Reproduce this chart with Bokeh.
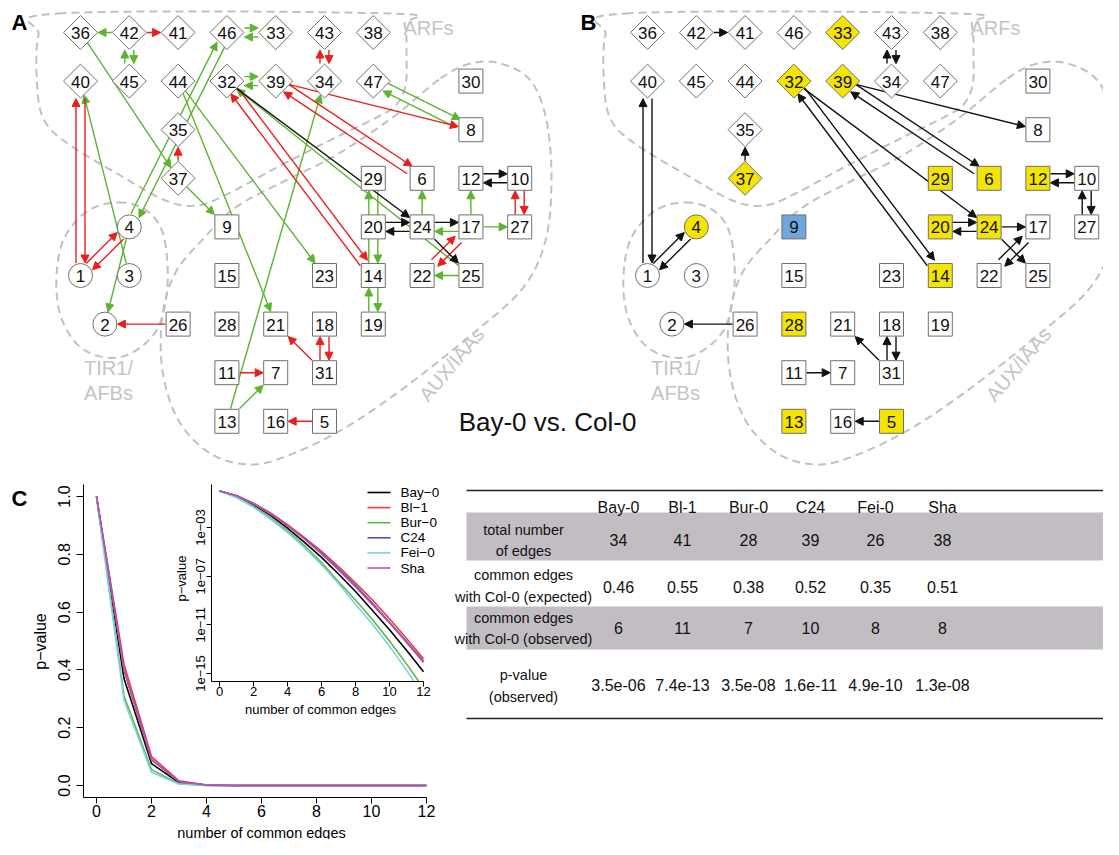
import math
import numpy as np
from bokeh.plotting import figure
from bokeh.models import (Range1d, LinearAxis, LogAxis, LogScale, FixedTicker,
                          NumeralTickFormatter, CustomJSTickFormatter, Arrow,
                          NormalHead, ColumnDataSource)
from bokeh.core.properties import value
from bokeh.embed import file_html
from bokeh.resources import INLINE

FONT = "Liberation Sans"
MINUS = "\u2212"

# ---------------- network data (panels A and B) ----------------
node_id = [36, 42, 41, 46, 33, 43, 38,
           40, 45, 44, 32, 39, 34, 47, 30,
           35, 8,
           37, 29, 6, 12, 10,
           4, 9, 20, 24, 17, 27,
           1, 3, 15, 23, 14, 22, 25,
           2, 26, 28, 21, 18, 19,
           11, 7, 31,
           13, 16, 5]
node_col = [0, 1, 2, 3, 4, 5, 6,
            0, 1, 2, 3, 4, 5, 6, 8,
            2, 8,
            2, 6, 7, 8, 9,
            1, 3, 6, 7, 8, 9,
            0, 1, 3, 5, 6, 7, 8,
            0.5, 2, 3, 4, 5, 6,
            3, 4, 5,
            3, 4, 5]
node_row = [0] * 7 + [1] * 8 + [2] * 2 + [3] * 5 + [4] * 6 + [5] * 7 + [6] * 6 + [7] * 3 + [8] * 3

edges_A_from = [42, 42, 42, 45, 46, 33, 43, 34, 32, 39, 36, 37, 37, 44, 44, 46, 4, 1, 40, 3,
                1, 4, 4, 26, 39, 39, 6, 47, 8, 32, 32, 14, 25, 20, 24, 24, 17, 24, 24, 17,
                12, 10, 27, 10, 17, 22, 17, 25, 14, 29, 19, 14, 31, 31, 18, 11, 13, 13, 5]
edges_A_to = [36, 41, 45, 42, 33, 46, 34, 43, 39, 32, 37, 35, 9, 21, 23, 4, 46, 40, 1, 40,
              4, 1, 2, 2, 8, 6, 39, 8, 47, 24, 14, 32, 32, 24, 20, 17, 24, 25, 6, 12,
              10, 12, 10, 27, 27, 17, 22, 22, 29, 14, 14, 19, 21, 18, 31, 7, 7, 34, 16]
edges_A_kind = ["g", "r", "g", "g", "g", "g", "r", "r", "g", "g", "g", "r", "g", "g", "g", "g", "g", "r", "r", "g",
                "r", "r", "g", "r", "r", "r", "r", "g", "g", "k", "r", "r", "g", "k", "k", "k", "g", "k", "g", "g",
                "k", "k", "r", "r", "g", "r", "r", "g", "g", "g", "g", "g", "r", "r", "r", "r", "g", "g", "r"]

edges_B_from = [42, 43, 34, 1, 40, 1, 4, 37, 32, 14, 32, 39, 6, 39, 20, 24, 24, 24, 22, 17,
                12, 10, 27, 10, 26, 31, 31, 18, 11, 5]
edges_B_to = [41, 34, 43, 40, 1, 4, 1, 35, 14, 32, 24, 6, 39, 8, 24, 20, 17, 25, 17, 22,
              10, 12, 10, 27, 2, 21, 18, 31, 7, 16]

B_yellow = [33, 32, 39, 37, 4, 29, 6, 12, 20, 24, 14, 28, 13, 5]
B_blue = [9]

# ---------------- panel C data ----------------
k_edges = [0, 1, 2, 3, 4, 5, 6, 7, 8, 9, 10, 11, 12]
strains = ["Bay-0", "Bl-1", "Bur-0", "C24", "Fei-0", "Sha"]
pv_bay0 = [1.0, 0.37, 0.076, 1.0e-2, 8.9e-4, 6.0e-5, 3.5e-6, 1.5e-7, 5.5e-9, 1.5e-10, 3.9e-12, 8.1e-14, 1.4e-15]
pv_bl1 = [1.0, 0.42, 0.10, 1.6e-2, 1.7e-3, 1.5e-4, 1.1e-5, 6.2e-7, 2.9e-8, 1.1e-9, 3.2e-11, 7.4e-13, 1.6e-14]
pv_bur0 = [1.0, 0.31, 0.055, 6.3e-3, 5.6e-4, 3.2e-5, 1.3e-6, 3.5e-8, 1.1e-9, 2.6e-11, 4.7e-13, 6.2e-15, 6.2e-17]
pv_c24 = [1.0, 0.40, 0.089, 1.35e-2, 1.4e-3, 1.2e-4, 7.9e-6, 4.2e-7, 1.8e-8, 6.0e-10, 1.6e-11, 4.2e-13, 1.0e-14]
pv_fei0 = [1.0, 0.295, 0.046, 5.0e-3, 4.0e-4, 2.2e-5, 8.9e-7, 2.5e-8, 4.9e-10, 1.1e-11, 1.7e-13, 1.9e-15, 1.5e-17]
pv_sha = [1.0, 0.40, 0.091, 1.3e-2, 1.4e-3, 1.1e-4, 6.8e-6, 3.2e-7, 1.3e-8, 4.6e-10, 1.4e-11, 3.6e-13, 7.9e-15]
series_colors = ["#000000", "#f23a3a", "#5cb947", "#5a4fb3", "#7fd0e3", "#b653b5"]

main_x_ticks = [0, 2, 4, 6, 8, 10, 12]
main_y_ticks = [0.0, 0.2, 0.4, 0.6, 0.8, 1.0]
inset_y_ticks = [1e-15, 1e-11, 1e-7, 1e-3]

# ---------------- table data ----------------
tbl_row_labels = [["total number", "of edges"],
                  ["common edges", "with Col-0 (expected)"],
                  ["common edges", "with Col-0 (observed)"],
                  ["p-value", "(observed)"]]
tbl_total = ["34", "41", "28", "39", "26", "38"]
tbl_expected = ["0.46", "0.55", "0.38", "0.52", "0.35", "0.51"]
tbl_observed = ["6", "11", "7", "10", "8", "8"]
tbl_pvalue = ["3.5e-06", "7.4e-13", "3.5e-08", "1.6e-11", "4.9e-10", "1.3e-08"]

# ---------------- canvas (data units = pixels of the picture) ----------------
CW, CH = 1103, 839
p = figure(width=CW, height=CH, x_range=Range1d(0, CW), y_range=Range1d(CH, 0),
           x_axis_type=None, y_axis_type=None, toolbar_location=None,
           output_backend="svg", min_border=0)
p.outline_line_color = None
p.background_fill_color = "white"

GRAY = "#c0c0c0"
GREEN, RED, BLACK = "#5cb52f", "#e8201d", "#111111"
KIND_COLOR = {"g": GREEN, "r": RED, "k": BLACK}


def closed_spline(pts, dx=0.0, n=14):
    P = np.array(pts, float)
    P[:, 0] += dx
    m = len(P)
    xs, ys = [], []
    for i in range(m):
        p0, p1, p2, p3 = P[(i - 1) % m], P[i], P[(i + 1) % m], P[(i + 2) % m]
        for t in np.linspace(0, 1, n, endpoint=False):
            q = 0.5 * ((2 * p1) + (-p0 + p2) * t + (2 * p0 - 5 * p1 + 4 * p2 - p3) * t * t
                       + (-p0 + 3 * p1 - 3 * p2 + p3) * t ** 3)
            xs.append(q[0]); ys.append(q[1])
    xs.append(xs[0]); ys.append(ys[0])
    return xs, ys


ARF_OUT = [(58, 13), (390, 13), (404, 24), (406, 55), (405, 85), (396, 104), (378, 116), (335, 137),
           (280, 165), (228, 193), (197, 205), (165, 200), (120, 175), (70, 145), (45, 122), (37, 90), (38, 35)]
AUX_OUT = [(440, 78), (470, 63), (500, 63), (530, 80), (546, 120), (551, 180), (545, 240), (522, 288),
           (470, 335), (400, 390), (340, 430), (285, 456), (248, 464), (210, 453), (178, 420), (162, 370),
           (162, 315), (175, 272), (203, 238), (235, 207), (285, 180), (335, 155), (392, 117)]
TIR_OUT = [(118, 202), (146, 210), (163, 235), (167, 285), (157, 328), (132, 352), (105, 357), (78, 345),
           (60, 315), (56, 275), (64, 237), (88, 210)]

GX0, GDX, GY0, GDY = 80.0, 48.8, 32.0, 48.6
PANEL_OFF = [0.0, 567.0]


def shape_of(n):
    return "circle" if n <= 4 else ("square" if n <= 31 else "diamond")


def reach(shape, ux, uy):
    if shape == "square":
        return 12.5 / max(abs(ux), abs(uy))
    if shape == "diamond":
        return 17.5 / (abs(ux) + abs(uy))
    return 12.5


def positions(off):
    return {n: (GX0 + off + c * GDX, GY0 + r * GDY) for n, c, r in zip(node_id, node_col, node_row)}


def edge_sources(efrom, eto, kinds, off):
    pos = positions(off)
    pairs = set(zip(efrom, eto))
    out = {}
    for s, d, k in zip(efrom, eto, kinds):
        x0, y0 = pos[s]
        x1, y1 = pos[d]
        L = math.hypot(x1 - x0, y1 - y0)
        ux, uy = (x1 - x0) / L, (y1 - y0) / L
        o = 4.5 if (d, s) in pairs else 0.0
        nx, ny = uy * o, -ux * o
        rs, rd = reach(shape_of(s), ux, uy), reach(shape_of(d), ux, uy)
        dd = out.setdefault(k, dict(x0=[], y0=[], x1=[], y1=[]))
        dd["x0"].append(x0 + nx + ux * rs); dd["y0"].append(y0 + ny + uy * rs)
        dd["x1"].append(x1 + nx - ux * rd); dd["y1"].append(y1 + ny - uy * rd)
    return out


def draw_nodes(off, fills):
    pos = positions(off)
    groups = {"square": dict(x=[], y=[], f=[]), "diamond": dict(x=[], y=[], f=[]), "circle": dict(x=[], y=[], f=[])}
    for n in node_id:
        g = groups[shape_of(n)]
        g["x"].append(pos[n][0]); g["y"].append(pos[n][1]); g["f"].append(fills.get(n, "white"))
    sq = groups["square"]
    p.rect(x=sq["x"], y=sq["y"], width=24, height=24, fill_color=sq["f"], line_color="#707070", line_width=1)
    dm = groups["diamond"]
    p.scatter(x=dm["x"], y=dm["y"], marker="square", size=24, angle=math.pi / 4,
              fill_color=dm["f"], line_color="#707070", line_width=1)
    ci = groups["circle"]
    p.scatter(x=ci["x"], y=ci["y"], marker="circle", size=24, fill_color=ci["f"], line_color="#707070", line_width=1)
    p.text(x=[pos[n][0] for n in node_id], y=[pos[n][1] + 0.5 for n in node_id], text=[str(n) for n in node_id],
           text_align="center", text_baseline="middle", text_font=value(FONT), text_font_size="17px",
           text_color="#111111")


for off in PANEL_OFF:
    for pts in (ARF_OUT, AUX_OUT, TIR_OUT):
        xs, ys = closed_spline(pts, dx=off)
        p.line(xs, ys, line_color=GRAY, line_width=2, line_dash="8 5", level="image")
    p.text(x=[428 + off], y=[27], text=["ARFs"], text_align="center", text_baseline="middle",
           text_font=value(FONT), text_font_size="20px", text_color="#c4c4c4")
    p.text(x=[108 + off, 108 + off], y=[367, 392], text=["TIR1/", "AFBs"], text_align="center",
           text_baseline="middle", text_font=value(FONT), text_font_size="20px", text_color="#c4c4c4")
    p.text(x=[451 + off], y=[364], text=["AUX/IAAs"], angle=math.radians(50), text_align="center",
           text_baseline="middle", text_font=value(FONT), text_font_size="20px", text_color="#c4c4c4")

# edges panel A
for k, d in edge_sources(edges_A_from, edges_A_to, edges_A_kind, PANEL_OFF[0]).items():
    c = KIND_COLOR[k]
    p.add_layout(Arrow(x_start="x0", y_start="y0", x_end="x1", y_end="y1", source=ColumnDataSource(d),
                       line_color=c, line_width=1.4, level="underlay",
                       end=NormalHead(size=8, fill_color=c, line_color=c, line_width=1)))
# edges panel B
for k, d in edge_sources(edges_B_from, edges_B_to, ["k"] * len(edges_B_from), PANEL_OFF[1]).items():
    p.add_layout(Arrow(x_start="x0", y_start="y0", x_end="x1", y_end="y1", source=ColumnDataSource(d),
                       line_color=BLACK, line_width=1.4, level="underlay",
                       end=NormalHead(size=8, fill_color=BLACK, line_color=BLACK, line_width=1)))

draw_nodes(PANEL_OFF[0], {})
fillsB = {n: "#f4e400" for n in B_yellow}
fillsB.update({n: "#6ea7da" for n in B_blue})
draw_nodes(PANEL_OFF[1], fillsB)

p.text(x=[547], y=[421], text=["Bay-0 vs. Col-0"], text_align="center", text_baseline="middle",
       text_font=value(FONT), text_font_size="26px", text_color="#111111")
p.text(x=[19, 588, 19], y=[22, 22, 498], text=["A", "B", "C"], text_align="center", text_baseline="middle",
       text_font=value(FONT), text_font_size="22px", text_font_style="bold", text_color="#000000")

# ---------------- panel C: ranges mapped onto the canvas ----------------
def lin(pa, va, pb, vb, P):
    return va + (P - pa) * (vb - va) / (pb - pa)


CX = (96, 0.0, 426, 12.0)       # pixel/value pairs of main plot x
CY = (785, 0.0, 496, 1.0)
IX = (219, 0.0, 423, 12.0)
IY = (673, -15.0, 527, -3.0)     # log10 values

p.extra_x_ranges = {"cx": Range1d(lin(*CX, 0), lin(*CX, CW)),
                    "ix": Range1d(lin(*IX, 0), lin(*IX, CW))}
p.extra_y_ranges = {"cy": Range1d(lin(*CY, CH), lin(*CY, 0)),
                    "iy": Range1d(10 ** lin(*IY, CH), 10 ** lin(*IY, 0))}
p.extra_y_scales = {"iy": LogScale()}

series = [pv_bay0, pv_bl1, pv_bur0, pv_c24, pv_fei0, pv_sha]
for pv, c in zip(series, series_colors):
    p.line(k_edges, pv, x_range_name="cx", y_range_name="cy", line_color=c, line_width=1.6)
for pv, c in zip(series, series_colors):
    p.line(k_edges, pv, x_range_name="ix", y_range_name="iy", line_color=c, line_width=1.6)
# clip the inset curves below its frame
p.quad(left=[398], right=[440], top=[681], bottom=[703], fill_color="white", line_color=None)

X_LO, Y_LO = -0.48, -0.04
IY_LO, IY_HI = 10 ** lin(*IY, 680.5), 10 ** lin(*IY, 483.5)


def style_axis(ax, fs, tick, standoff):
    ax.axis_line_color = "black"
    ax.axis_line_width = 1
    ax.major_tick_line_color = "black"
    ax.major_tick_out = tick
    ax.major_tick_in = 0
    ax.minor_tick_line_color = None
    ax.major_label_text_font = FONT
    ax.major_label_text_font_size = fs
    ax.major_label_text_color = "black"
    ax.major_label_standoff = standoff


ax1 = LinearAxis(x_range_name="cx", y_range_name="cy", fixed_location=Y_LO, bounds=(X_LO, 12),
                 ticker=FixedTicker(ticks=main_x_ticks))
style_axis(ax1, "16px", 6, 2)
p.add_layout(ax1, "below")
ax2 = LinearAxis(x_range_name="cx", y_range_name="cy", fixed_location=X_LO, bounds=(Y_LO, 1.04),
                 ticker=FixedTicker(ticks=main_y_ticks), formatter=NumeralTickFormatter(format="0.0"))
style_axis(ax2, "16px", 7, 6)
ax2.major_label_orientation = "vertical"
p.add_layout(ax2, "left")

ax3 = LinearAxis(x_range_name="ix", y_range_name="iy", fixed_location=IY_LO, bounds=(X_LO, 12),
                 ticker=FixedTicker(ticks=main_x_ticks))
style_axis(ax3, "13px", 5, 1)
p.add_layout(ax3, "below")
ax4 = LogAxis(x_range_name="ix", y_range_name="iy", fixed_location=X_LO, bounds=(IY_LO, IY_HI),
              ticker=FixedTicker(ticks=inset_y_ticks),
              formatter=CustomJSTickFormatter(code="""
                  const e = Math.round(Math.log10(tick));
                  const a = Math.abs(e);
                  return "1e" + (e < 0 ? "\u2212" : "+") + (a < 10 ? "0" + a : "" + a);
              """))
style_axis(ax4, "13px", 5, 1)
ax4.major_label_orientation = "vertical"
p.add_layout(ax4, "left")

# axis titles
p.text(x=[261], y=[832], text=["number of common edges"], text_align="center", text_baseline="middle",
       text_font=value(FONT), text_font_size="14.5px", text_color="black")
p.text(x=[40], y=[641], text=["p" + MINUS + "value"], angle=math.pi / 2, text_align="center",
       text_baseline="middle", text_font=value(FONT), text_font_size="16px", text_color="black")
p.text(x=[320], y=[709], text=["number of common edges"], text_align="center", text_baseline="middle",
       text_font=value(FONT), text_font_size="13px", text_color="black")
p.text(x=[181], y=[578], text=["p" + MINUS + "value"], angle=math.pi / 2, text_align="center",
       text_baseline="middle", text_font=value(FONT), text_font_size="13px", text_color="black")

# legend of the inset
leg_names = [s.replace("-", MINUS) for s in strains]
leg_y = [492 + 15.1 * i for i in range(len(strains))]
p.segment(x0=[367] * len(strains), x1=[390] * len(strains), y0=leg_y, y1=leg_y,
          line_color=series_colors, line_width=1.6)
p.text(x=[400] * len(strains), y=leg_y, text=leg_names, text_align="left", text_baseline="middle",
       text_font=value(FONT), text_font_size="13.5px", text_color="black")

# ---------------- table ----------------
col_x = [618, 682, 748, 810, 875, 942]
row_val_y = [539, 586, 627, 684]
row_lab_y = [(529, 550), (574, 596), (617, 638), (674, 696)]
p.quad(left=[466, 466], right=[CW, CW], top=[512, 606], bottom=[560, 649],
       fill_color="#c2bdc3", line_color=None)
p.segment(x0=[466, 466], x1=[CW, CW], y0=[490, 718], y1=[490, 718], line_color="#222222", line_width=1.6)
p.text(x=col_x, y=[507] * 6, text=strains, text_align="center", text_baseline="middle",
       text_font=value(FONT), text_font_size="16px", text_color="#111111")
for vals, yv in zip([tbl_total, tbl_expected, tbl_observed, tbl_pvalue], row_val_y):
    p.text(x=col_x, y=[yv] * 6, text=vals, text_align="center", text_baseline="middle",
           text_font=value(FONT), text_font_size="16px", text_color="#111111")
for labs, (ya, yb) in zip(tbl_row_labels, row_lab_y):
    p.text(x=[523, 523], y=[ya, yb], text=labs, text_align="center", text_baseline="middle",
           text_font=value(FONT), text_font_size="14.5px", text_color="#111111")

open("out.html", "w").write(file_html(p, INLINE))
